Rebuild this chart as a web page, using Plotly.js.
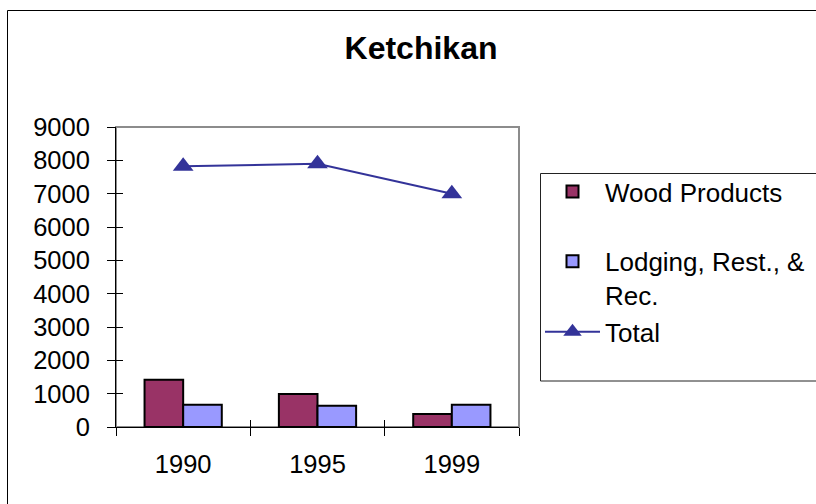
<!DOCTYPE html>
<html>
<head>
<meta charset="utf-8">
<script src="https://cdn.plot.ly/plotly-3.0.1.min.js"></script>
<style>html,body{margin:0;padding:0;background:#fff;}#chart{width:816px;height:504px;}</style>
</head>
<body>
<div id="chart"></div>
<script>
// Data
var years = ['1990', '1995', '1999'];
var woodProducts = [1420, 990, 390];
var lodgingRestRec = [670, 640, 670];
var total = [7820, 7900, 7000];
var yTicks = [0, 1000, 2000, 3000, 4000, 5000, 6000, 7000, 8000, 9000];

var FONT = 'Liberation Sans, Arial, sans-serif';
var yearIndex = years.map(function (_, i) { return i; });

var traces = [
  {
    type: 'bar', name: 'Wood Products', x: years, y: woodProducts, legendgroup: 'a',
    marker: {color: '#993366', line: {color: '#000000', width: 2}},
    hoverinfo: 'skip'
  },
  {
    type: 'bar', name: 'Lodging, Rest., &<br>Rec.', x: years, y: lodgingRestRec, legendgroup: 'b',
    marker: {color: '#9999FF', line: {color: '#000000', width: 2}},
    hoverinfo: 'skip'
  },
  {
    type: 'scatter', mode: 'lines+markers', name: 'Total', x: years, y: total, legendgroup: 'b',
    line: {color: '#333399', width: 2},
    marker: {symbol: 'triangle-up', size: 18, color: '#333399'},
    hoverinfo: 'skip'
  },
  {
    // invisible helper trace to host the crossing-tick overlay axes
    type: 'scatter', mode: 'markers', x: yearIndex, y: total,
    xaxis: 'x2', yaxis: 'y2', marker: {opacity: 0}, showlegend: false, hoverinfo: 'skip'
  }
];

var L = 116, R = 297, T = 127, B = 77;
var PW = 816 - L - R, PH = 504 - T - B;
function px2x(p) { return (p - L) / PW; }
function px2y(p) { return 1 - (p - T) / PH; }

var layout = {
  width: 816, height: 504,
  margin: {l: L, r: R, t: T, b: B, autoexpand: false},
  paper_bgcolor: '#ffffff', plot_bgcolor: '#ffffff',
  font: {family: FONT, color: '#000000'},
  showlegend: true,
  hovermode: false,
  barmode: 'group', bargap: 0.425, bargroupgap: 0,
  title: {
    text: '<b>Ketchikan</b>', font: {family: FONT, size: 32, color: '#000000'},
    xref: 'paper', x: px2x(421), xanchor: 'center',
    yref: 'container', y: 1 - 47.5 / 504, yanchor: 'middle'
  },
  xaxis: {
    type: 'category', categoryorder: 'array', categoryarray: years,
    range: [-0.5, 2.5], tickson: 'boundaries',
    ticks: 'outside', ticklen: 8, tickcolor: '#000000', tickwidth: 1,
    showline: true, linecolor: '#000000', linewidth: 1,
    showgrid: false, zeroline: false,
    tickfont: {family: FONT, size: 25.5, color: '#000000'},
    ticklabelstandoff: 14, fixedrange: true
  },
  yaxis: {
    range: [0, 9000], tickmode: 'array', tickvals: yTicks, ticktext: yTicks.map(String),
    ticks: 'outside', ticklen: 8, tickcolor: '#000000', tickwidth: 1,
    showline: true, linecolor: '#000000', linewidth: 1,
    showgrid: false, zeroline: false,
    tickfont: {family: FONT, size: 25.5, color: '#000000'},
    ticklabelstandoff: 12, fixedrange: true
  },
  xaxis2: {
    overlaying: 'x', anchor: 'y2', type: 'linear', range: [-0.5, 2.5],
    tickmode: 'array', tickvals: [-0.5, 0.5, 1.5, 2.5],
    ticks: 'inside', ticklen: 7, tickcolor: '#000000', tickwidth: 1,
    showticklabels: false, showline: false, showgrid: false, zeroline: false, fixedrange: true
  },
  yaxis2: {
    overlaying: 'y', anchor: 'x2', side: 'left', range: [0, 9000],
    tickmode: 'array', tickvals: yTicks,
    ticks: 'inside', ticklen: 7, tickcolor: '#000000', tickwidth: 1,
    showticklabels: false, showline: false, showgrid: false, zeroline: false, fixedrange: true
  },
  legend: {
    x: px2x(540), y: px2y(168), xanchor: 'left', yanchor: 'top',
    xref: 'paper', yref: 'paper',
    bgcolor: 'rgba(0,0,0,0)', borderwidth: 0,
    font: {family: FONT, size: 26, color: '#000000'},
    valign: 'top', itemwidth: 55, traceorder: 'grouped', tracegroupgap: 33
  },
  shapes: [
    {type: 'rect', xref: 'paper', yref: 'paper', x0: 0, x1: 1, y0: 0, y1: 1,
     line: {color: '#8c8c8c', width: 2}, layer: 'below'},
    {type: 'rect', xref: 'paper', yref: 'paper',
     x0: px2x(7.5), x1: px2x(900), y0: px2y(600), y1: px2y(10.5),
     line: {color: '#000000', width: 1}, layer: 'below'},
    {type: 'rect', xref: 'paper', yref: 'paper',
     x0: px2x(540.5), x1: px2x(900), y0: px2y(381), y1: px2y(173.5),
     line: {color: '#222222', width: 1}, fillcolor: '#ffffff', layer: 'below'}
  ]
};

Plotly.newPlot('chart', traces, layout, {displayModeBar: false, staticPlot: true});
</script>
</body>
</html>
